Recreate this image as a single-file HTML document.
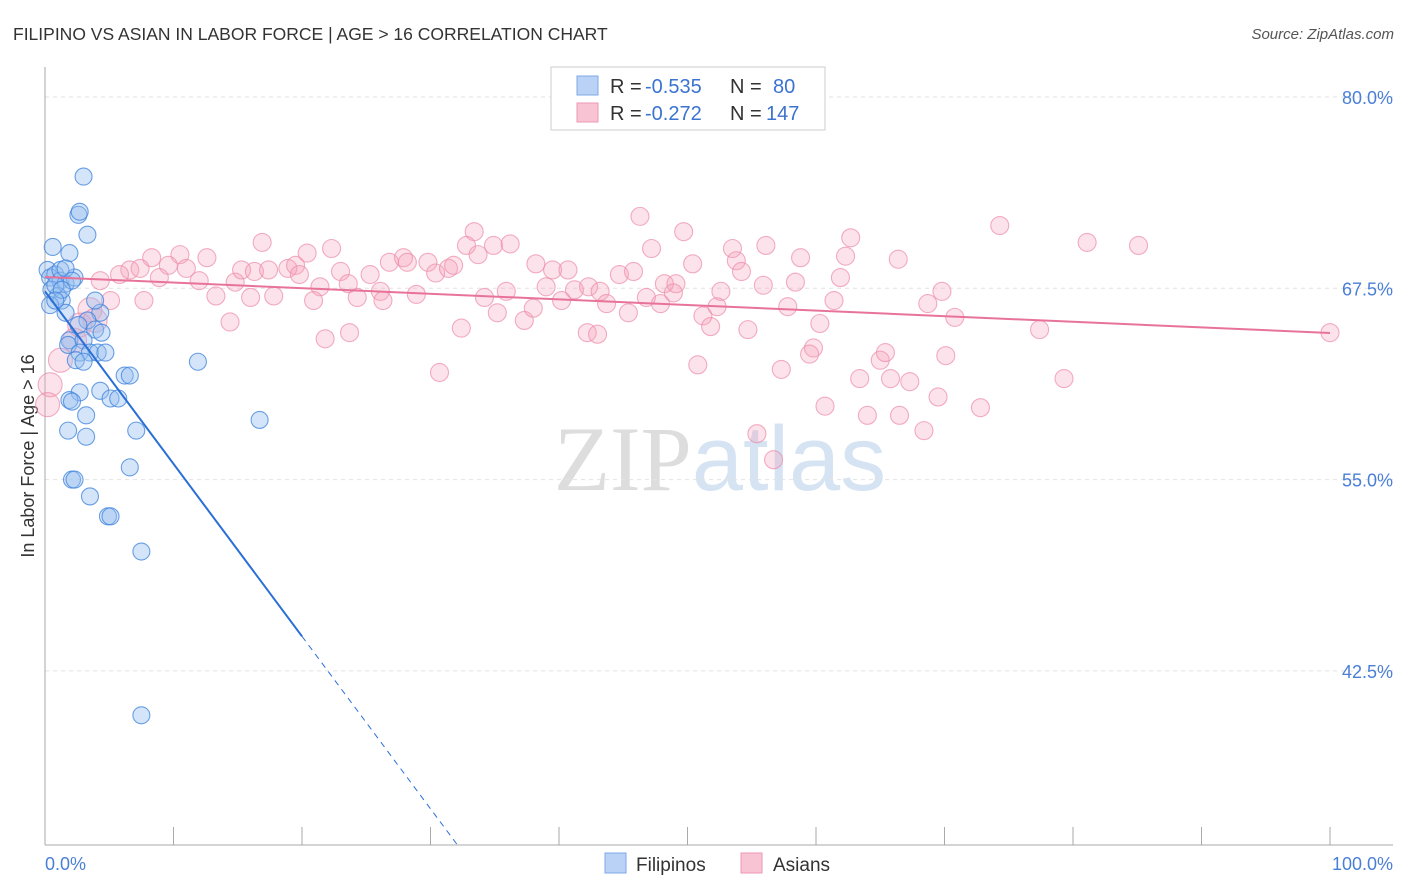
<!DOCTYPE html>
<html><head><meta charset="utf-8"><style>
body{margin:0;background:#fff;font-family:"Liberation Sans",sans-serif;}
svg{display:block}
</style></head><body>
<svg id="chart" width="1406" height="892" xmlns="http://www.w3.org/2000/svg">
<text x="13" y="40" font-size="17.5" fill="#333">FILIPINO VS ASIAN IN LABOR FORCE | AGE &gt; 16 CORRELATION CHART</text>
<text x="1394" y="39" font-size="15" fill="#555" text-anchor="end" font-style="italic">Source: ZipAtlas.com</text>
<text x="720" y="490" font-size="92" text-anchor="middle"><tspan fill="#ddd" font-family="Liberation Serif">ZIP</tspan><tspan fill="#d5e3f3">atlas</tspan></text>
<g id="grid"></g>
<line x1="45" y1="67" x2="45" y2="845" stroke="#aaa"/>
<line x1="45" y1="845" x2="1393" y2="845" stroke="#aaa"/>
<g id="ticks"></g>
<text transform="translate(34,456) rotate(-90)" font-size="18" fill="#333" text-anchor="middle">In Labor Force | Age &gt; 16</text>
<text x="45" y="870" font-size="18" fill="#4a7fd6">0.0%</text>
<text x="1393" y="870" font-size="18" fill="#4a7fd6" text-anchor="end">100.0%</text>
<g id="pink"></g>
<g id="blue"></g>
<g id="lines"></g>
<g>
<rect x="551" y="67" width="274" height="63" fill="#fff" stroke="#ccc"/>
<rect x="577" y="76" width="21" height="19" fill="#b9d2f5" stroke="#7ea9e6"/>
<rect x="577" y="103" width="21" height="19" fill="#f8c3d3" stroke="#ee9ab4"/>
<text x="610" y="93" font-size="20" fill="#333">R =</text><text x="645" y="93" font-size="20" fill="#3b73d0">-0.535</text>
<text x="730" y="93" font-size="20" fill="#333">N =</text><text x="773" y="93" font-size="20" fill="#3b73d0">80</text>
<text x="610" y="120" font-size="20" fill="#333">R =</text><text x="645" y="120" font-size="20" fill="#3b73d0">-0.272</text>
<text x="730" y="120" font-size="20" fill="#333">N =</text><text x="766" y="120" font-size="20" fill="#3b73d0">147</text>
</g>
<g><rect x="605" y="853" width="21" height="20" fill="#b9d2f5" stroke="#7ea9e6"/><text x="636" y="871" font-size="19" fill="#333">Filipinos</text></g>
<g><rect x="741" y="853" width="21" height="20" fill="#f8c3d3" stroke="#ee9ab4"/><text x="773" y="871" font-size="19" fill="#333">Asians</text></g>
</svg>
<script>
const yTicks=[80,67.5,55,42.5];
const yTickLabels=["80.0%","67.5%","55.0%","42.5%"];
const xTicks=[0,10,20,30,40,50,60,70,80,90,100];
const blueX=[3.0,2.6,2.7,3.3,0.6,1.9,0.2,0.4,0.8,1.2,1.6,2.3,0.5,1.0,1.3,0.4,1.6,4.3,3.3,2.6,3.9,4.4,1.9,1.8,3.0,2.7,3.5,4.1,4.7,2.4,3.0,11.9,6.2,6.6,4.3,2.7,1.9,5.1,5.7,2.1,3.2,7.1,1.8,3.2,16.7,6.6,2.1,2.3,3.5,4.9,5.1,7.5,7.5,0.8,1.2,1.6,2.1,1.3,0.8,3.9];
const blueY=[74.8,72.3,72.5,71.0,70.2,69.8,68.7,68.2,68.4,68.0,67.8,68.2,67.4,67.0,66.7,66.4,65.9,65.9,65.4,65.1,64.8,64.6,64.1,63.8,64.1,63.3,63.3,63.3,63.3,62.8,62.7,62.7,61.8,61.8,60.8,60.7,60.2,60.3,60.3,60.1,59.2,58.2,58.2,57.8,58.9,55.8,55.0,55.0,53.9,52.6,52.6,50.3,39.6,67.7,68.7,68.8,68.0,67.4,66.7,66.7];
const pinkX=[46.3,49.7,33.4,74.3,81.1,85.1,16.9,10.5,12.6,32.8,34.9,36.2,22.3,20.4,33.7,47.2,53.5,56.1,62.7,58.8,53.8,62.3,66.4,8.3,9.6,6.6,5.8,4.3,7.4,8.9,11.0,12.0,14.8,15.3,16.3,17.4,18.9,19.5,19.8,21.4,23.0,23.6,25.3,26.8,27.9,28.2,29.8,30.4,31.4,31.8,38.2,39.5,40.7,39.0,41.2,42.3,44.7,45.8,48.2,49.1,50.4,54.2,55.9,58.4,61.9,16.0,13.3,17.8,20.9,24.3,26.1,26.3,28.9,34.2,35.2,35.9,37.3,38.0,40.2,43.2,43.7,45.4,46.8,47.9,48.9,51.2,52.3,52.6,51.8,54.7,57.8,60.3,61.4,68.7,69.8,70.8,77.4,100,7.7,14.4,21.8,23.7,32.4,42.2,43.0,50.8,57.3,59.8,59.5,63.4,65.0,65.4,65.8,67.3,70.1,79.3,30.7,60.7,64.0,66.5,69.5,72.8,68.4,55.4,56.7,5.1,3.5,2.3,1.2,0.4,0.2,2.7,3.9];
const pinkY=[72.2,71.2,71.2,71.6,70.5,70.3,70.5,69.7,69.5,70.3,70.3,70.4,70.1,69.8,69.7,70.1,70.1,70.3,70.8,69.5,69.3,69.6,69.4,69.5,69.0,68.7,68.4,68.0,68.8,68.2,68.8,68.0,67.9,68.7,68.6,68.7,68.8,69.0,68.4,67.6,68.6,67.8,68.4,69.2,69.5,69.2,69.2,68.5,68.8,69.0,69.1,68.7,68.7,67.6,67.4,67.6,68.4,68.6,67.8,67.8,69.1,68.6,67.7,67.9,68.2,66.9,67.0,67.0,66.7,66.9,67.3,66.7,67.1,66.9,65.9,67.3,65.4,66.2,66.7,67.3,66.5,65.9,66.9,66.5,67.2,65.7,66.3,67.3,65.0,64.8,66.3,65.2,66.7,66.5,67.3,65.6,64.8,64.6,66.7,65.3,64.2,64.6,64.9,64.6,64.5,62.5,62.2,63.6,63.2,61.6,62.8,63.3,61.6,61.4,63.1,61.6,62.0,59.8,59.2,59.2,60.4,59.7,58.2,58.0,56.3,66.7,66.1,64.1,62.8,61.2,59.9,65.1,65.4];
const blueLine=[67.3,-1.127];
const pinkLine=[68.24,64.58];
const NS="http://www.w3.org/2000/svg";
const X=v=>45+v*12.85, Y=v=>97+(80-v)*15.304;
function mk(t,a,p){const e=document.createElementNS(NS,t);for(const k in a)e.setAttribute(k,a[k]);p.appendChild(e);return e;}
const grid=document.getElementById('grid'),ticks=document.getElementById('ticks');
yTicks.forEach((v,i)=>{
 const l=mk('line',{x1:45,x2:1393,y1:Y(v),y2:Y(v),stroke:'#e2e2e2','stroke-dasharray':'4,4'},grid);
 
 
 const t=mk('text',{x:1393,y:Y(v)+7,'font-size':18,fill:'#4a7fd6','text-anchor':'end'},grid);
 t.textContent=yTickLabels[i];
 
 
});
xTicks.forEach(v=>{
 const l=mk('line',{x1:X(v),x2:X(v),y1:827,y2:845,stroke:'#aaa'},ticks);
 
 
});
const pg=document.getElementById('pink');
pinkX.forEach((x,i)=>{
 const c=mk('circle',{cx:X(x),cy:Y(pinkY[i]),r:x<4?12:9,fill:'rgba(244,160,185,0.3)',stroke:'rgba(236,140,170,0.7)','stroke-width':1.1},pg);
 
 
});
const bg=document.getElementById('blue');
blueX.forEach((x,i)=>{
 const c=mk('circle',{cx:X(x),cy:Y(blueY[i]),r:8.5,fill:'rgba(150,190,240,0.4)',stroke:'rgba(60,130,220,0.75)','stroke-width':1.1},bg);
 
 
});
const lg=document.getElementById('lines');
const bAt=x=>blueLine[0]+blueLine[1]*x;
const xEnd=(31.1-blueLine[0])/blueLine[1];
let l1=mk('line',{x1:X(0),y1:Y(bAt(0)),x2:X(20),y2:Y(bAt(20)),stroke:'#2a6fd6','stroke-width':2},lg);


let l2=mk('line',{x1:X(20),y1:Y(bAt(20)),x2:X(xEnd),y2:Y(bAt(xEnd)),stroke:'#2a6fd6','stroke-width':1,'stroke-dasharray':'6,5'},lg);


let l3=mk('line',{x1:X(0),y1:Y(pinkLine[0]),x2:X(100),y2:Y(pinkLine[1]),stroke:'#e8739a','stroke-width':2},lg);


</script>
</body></html>
